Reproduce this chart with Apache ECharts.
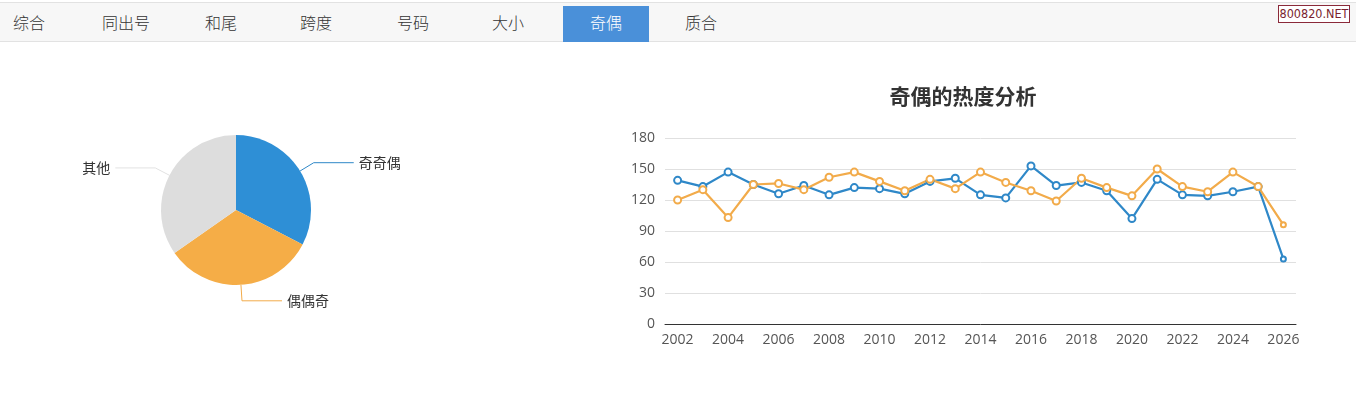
<!DOCTYPE html>
<html><head><meta charset="utf-8">
<script src="https://cdn.jsdelivr.net/npm/echarts@6/dist/echarts.min.js"></script>
<style>
html,body{margin:0;padding:0;background:#fff;width:1356px;height:420px;overflow:hidden;font-family:"Noto Sans CJK SC","Noto Sans",sans-serif;}
#tabs{position:absolute;left:0;top:2px;width:1356px;height:38px;background:#f7f7f7;border-top:1px solid #e2e2e2;border-bottom:1px solid #e2e2e2;}
.tab{position:absolute;top:0;height:38px;line-height:38px;font-size:16px;color:#333;font-weight:300;}
.tab.active{background:#4a90d9;color:#fff;top:3px;height:36px;line-height:32px;text-align:center;}
#wm{position:absolute;left:1278px;top:5px;width:70px;height:16px;border:1px solid #8b2a3a;background:#fff;color:#7a1f2f;font-size:12.5px;line-height:16px;text-align:center;font-family:"DejaVu Sans Condensed","Liberation Sans",sans-serif;}
#chart{position:absolute;left:0;top:0;width:1356px;height:420px;}
</style></head>
<body>
<div id="chart"></div>
<div id="tabs"></div>
<div id="wm">800820.NET</div>
<script>
const tabNames = ['综合','同出号','和尾','跨度','号码','大小','奇偶','质合'];
const tabLefts = [13,102,205,300,397,492,563,685];
const activeTab = '奇偶';

const pieNames = ['奇奇偶','偶偶奇','其他'];
const pieValues = [326, 327, 347];

const years = ['2002','2003','2004','2005','2006','2007','2008','2009','2010','2011','2012','2013','2014','2015','2016','2017','2018','2019','2020','2021','2022','2023','2024','2025','2026'];
const blueSeries = [139,133,147,135,126,134,125,132,131,126,138,141,125,122,153,134,137,129,102,140,125,124,128,133,63];
const orangeSeries = [120,130,103,135,136,130,142,147,138,129,140,131,147,137,129,119,141,132,124,150,133,128,147,133,96];
const yTicks = [0,30,60,90,120,150,180];

const tabs = document.getElementById('tabs');
tabNames.forEach((n,i)=>{
  const d=document.createElement('div');
  d.className='tab'+(n===activeTab?' active':'');
  d.textContent=n;
  d.style.left=tabLefts[i]+'px';
  if(n===activeTab){d.style.width='86px';}
  tabs.appendChild(d);
});

const BLUE='#2e8fd6', ORANGE='#f5ad47', GREY='#dddddd';
const LBLUE='#2f88c8', LORANGE='#f2ab4a';

function pts(arr){
  return arr.map((v,i)=> i===arr.length-1 ? {value:v, symbolSize:5} : v);
}

const chart = echarts.init(document.getElementById('chart'));
chart.setOption({
  animation:false,
  textStyle:{fontFamily:'"Noto Sans CJK SC","Noto Sans",sans-serif'},
  title:{text:'奇偶的热度分析',left:958,top:81,textAlign:'center',
    textStyle:{fontSize:21,fontWeight:'bold',color:'#333',fontFamily:'"Noto Sans CJK SC",sans-serif'}},
  grid:{left:665,right:60,top:138,bottom:96},
  xAxis:{type:'category',data:years,boundaryGap:true,
    axisLine:{lineStyle:{color:'#333',width:1}},
    axisTick:{show:false},
    axisLabel:{interval:1,color:'#555',fontSize:14,margin:9,fontFamily:'"Open Sans",sans-serif'}},
  yAxis:{type:'value',min:yTicks[0],max:yTicks[yTicks.length-1],interval:30,
    axisLine:{show:false},axisTick:{show:false},
    splitLine:{lineStyle:{color:'#e0e0e0'}},
    axisLabel:{color:'#555',fontSize:14,margin:10,fontFamily:'"Open Sans",sans-serif'}},
  series:[
    {type:'pie',center:[236,210],radius:75,startAngle:90,clockwise:true,
      data:pieNames.map((n,i)=>({name:n,value:pieValues[i],
        itemStyle:{color:[BLUE,ORANGE,GREY][i]},
        labelLine:{lineStyle:{color:[LBLUE,LORANGE,'#e2e2e2'][i]}}})),
      label:{color:'#333',fontSize:14,fontFamily:'"Noto Sans CJK SC",sans-serif'},
      labelLine:{length:16,length2:40}
    },
    {type:'line',data:pts(blueSeries),symbol:'emptyCircle',symbolSize:7,
      lineStyle:{width:2.2,color:LBLUE},itemStyle:{color:LBLUE,borderWidth:2}},
    {type:'line',data:pts(orangeSeries),symbol:'emptyCircle',symbolSize:7,
      lineStyle:{width:2.2,color:LORANGE},itemStyle:{color:LORANGE,borderWidth:2}}
  ]
});
</script>
</body></html>
